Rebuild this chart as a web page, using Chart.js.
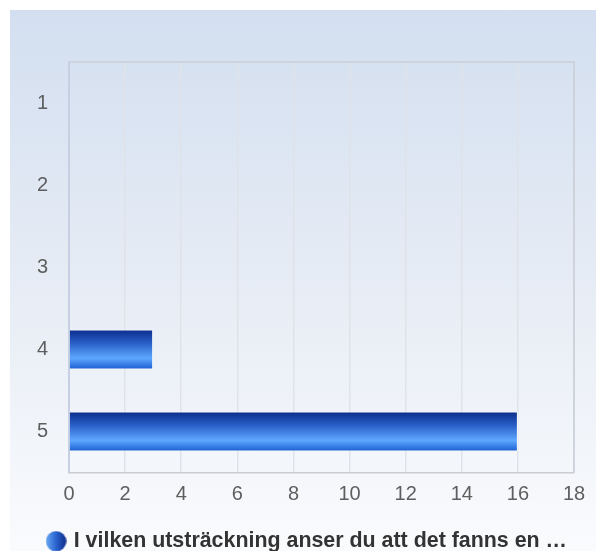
<!DOCTYPE html>
<html>
<head>
<meta charset="utf-8">
<script src="https://cdn.jsdelivr.net/npm/chart.js@4.4.1/dist/chart.umd.min.js"></script>
<style>
  html, body { margin: 0; padding: 0; background: #ffffff; overflow: hidden; }
  #bg { position: absolute; left: 10px; top: 10px; width: 586px; height: 541px;
        background: linear-gradient(to bottom, #d3dff0 0%, #e6ecf5 50%, #fafbfd 100%); }
  #wrap { position: absolute; left: 0; top: 0; width: 596px; height: 551px; }
</style>
</head>
<body>
<div id="bg"></div>
<div id="wrap"><canvas id="c" width="596" height="551"></canvas></div>
<script>
const categories = ["1", "2", "3", "4", "5"];
const seriesValues = [0, 0, 0, 3, 16];
const seriesLabel = "I vilken utsträckning anser du att det fanns en …";
const xTicks = [0, 2, 4, 6, 8, 10, 12, 14, 16, 18];

const FONT = "'Liberation Sans', Arial, Helvetica, sans-serif";

// legend marker: gradient circle
const marker = document.createElement('canvas');
marker.width = 21; marker.height = 21;
(function () {
  const m = marker.getContext('2d');
  const g = m.createLinearGradient(0, 0, 21, 0);
  g.addColorStop(0, '#6aaaf5');
  g.addColorStop(0.5, '#2a64cf');
  g.addColorStop(1, '#0c2a86');
  m.fillStyle = g;
  m.beginPath(); m.arc(10.5, 10.5, 10.2, 0, Math.PI * 2); m.fill();
})();

const BAR_T = 40;
function barFill(ctx) {
  const chart = ctx.chart;
  const ys = chart.scales.y;
  if (!ys || ctx.dataIndex === undefined) return '#2a64cf';
  const yc = ys.getPixelForValue(ctx.dataIndex);
  if (!isFinite(yc)) return '#2a64cf';
  const g = chart.ctx.createLinearGradient(0, yc - BAR_T / 2, 0, yc + BAR_T / 2);
  g.addColorStop(0, '#0b2c8a');
  g.addColorStop(0.35, '#2a60c8');
  g.addColorStop(0.72, '#5ea8ff');
  g.addColorStop(1, '#1a5cd0');
  return g;
}

const frame = {
  id: 'frame',
  afterLayout(chart) {
    if (chart.legend) { chart.legend.left += 21; chart.legend.right += 21; }
  },
  beforeDatasetsDraw(chart) {
    const { ctx, chartArea: a } = chart;
    ctx.save();
    ctx.strokeStyle = '#c9ced6';
    ctx.lineWidth = 1.5;
    ctx.beginPath();
    ctx.moveTo(a.left, a.top); ctx.lineTo(a.right, a.top); ctx.lineTo(a.right, a.bottom);
    ctx.stroke();
    ctx.restore();
  }
};

new Chart(document.getElementById('c'), {
  type: 'bar',
  data: {
    labels: categories,
    datasets: [{
      label: seriesLabel,
      data: seriesValues,
      backgroundColor: barFill,
      borderColor: 'rgba(255,255,255,0.85)',
      borderWidth: 1,
      barPercentage: 0.487,
      categoryPercentage: 1
    }]
  },
  options: {
    indexAxis: 'y',
    responsive: false,
    animation: false,
    devicePixelRatio: 1,
    layout: { padding: { left: 0, top: 62, right: 22, bottom: -11 } },
    scales: {
      x: {
        min: 0, max: 18,
        afterBuildTicks(s) { s.ticks = xTicks.map(v => ({ value: v })); },
        afterFit(s) { s.height = 56; },
        grid: { color: '#dfe3e9', lineWidth: 1.5, drawTicks: false },
        border: { color: '#c9cbd0', width: 1.5 },
        ticks: { color: '#5e5e5e', font: { family: FONT, size: 20 }, padding: 10 }
      },
      y: {
        afterFit(s) { s.width = 69; },
        grid: { display: false, drawTicks: false },
        border: { color: '#c6d0e2', width: 2 },
        ticks: { color: '#5e5e5e', font: { family: FONT, size: 20 }, padding: 21 }
      }
    },
    plugins: {
      tooltip: { enabled: false },
      legend: {
        position: 'bottom',
        labels: {
          usePointStyle: true,
          pointStyle: marker,
          pointStyleWidth: 14,
          padding: 2,
          color: '#333333',
          font: { family: FONT, size: 21.4, weight: 'bold' }
        }
      }
    }
  },
  plugins: [frame]
});
</script>
</body>
</html>
